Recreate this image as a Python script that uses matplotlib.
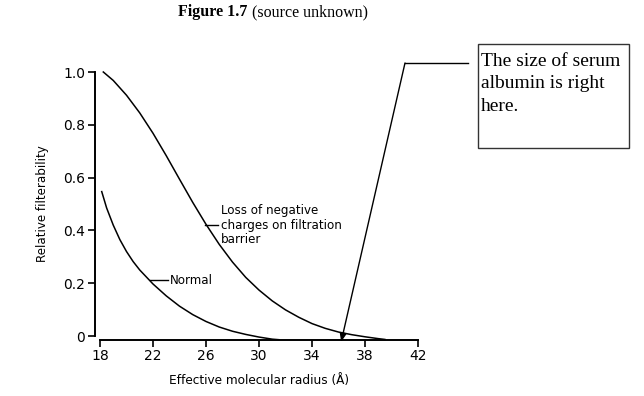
import matplotlib
matplotlib.use("Agg")
import matplotlib.pyplot as plt
from matplotlib.patches import Rectangle

# Data
loss_x = [18.25, 19, 20, 21, 22, 23, 24, 25, 26, 27, 28, 29, 30, 31, 32, 33, 34, 35, 36,
          37, 38, 39, 39.5]
loss_y = [1.0, 0.968, 0.912, 0.845, 0.768, 0.683, 0.594, 0.506, 0.423, 0.347, 0.280, 0.222,
          0.174, 0.133, 0.099, 0.071, 0.047, 0.029, 0.015, 0.005, -0.003, -0.010, -0.013]
norm_x = [18.13, 18.5, 19, 19.5, 20, 20.5, 21, 22, 23, 24, 25, 26, 27, 28, 29, 30, 31, 31.5]
norm_y = [0.547, 0.485, 0.42, 0.365, 0.32, 0.282, 0.25, 0.197, 0.152, 0.113, 0.081, 0.055,
          0.034, 0.018, 0.006, -0.004, -0.012, -0.014]

xticks = [18, 22, 26, 30, 34, 38, 42]
yticks = [0, 0.2, 0.4, 0.6, 0.8, 1.0]
yticklabels = ["0", "0.2", "0.4", "0.6", "0.8", "1.0"]
albumin_radius = 36.2

W, H = 644, 396
fig = plt.figure(figsize=(W / 100, H / 100), dpi=100)
ax = fig.add_axes([100 / W, 1 - 336 / H, (418 - 100) / W, (336 - 72) / H])

sans = "DejaVu Sans"
ax.plot(loss_x, loss_y, color="black", lw=1.1, clip_on=False, solid_joinstyle="round")
ax.plot(norm_x, norm_y, color="black", lw=1.1, clip_on=False, solid_joinstyle="round")

ax.set_xlim(18, 42)
ax.set_ylim(0, 1)
ax.set_xticks(xticks)
ax.set_xticklabels([str(t) for t in xticks], fontsize=9.5, family=sans)
ax.set_yticks(yticks)
ax.set_yticklabels(yticklabels, fontsize=9.5, family=sans)
for s in ["top", "right"]:
    ax.spines[s].set_visible(False)
ax.spines["left"].set_position(("outward", 3.6))
ax.spines["bottom"].set_position(("outward", 2.6))
ax.spines["left"].set_linewidth(1.4)
ax.spines["bottom"].set_linewidth(1.4)
ax.tick_params(length=5, width=1.2, pad=2)
ax.set_xlabel("Effective molecular radius (Å)", fontsize=8.7, family=sans, labelpad=8)
ax.set_ylabel("Relative filterability", fontsize=8.6, family=sans, labelpad=10)

# curve labels
ax.plot([21.8, 23.1], [0.212, 0.212], color="black", lw=1.0)
ax.text(23.3, 0.212, "Normal", fontsize=8.6, family=sans, va="center")
ax.plot([25.9, 26.9], [0.42, 0.42], color="black", lw=1.0)
ax.text(27.1, 0.42, "Loss of negative\ncharges on filtration\nbarrier", fontsize=8.6,
        family=sans, va="center", linespacing=1.14)

# title
fig.text(247 / W, 1 - 12 / H, "Figure 1.7", family="Liberation Serif", weight="bold",
         fontsize=11.5, ha="right", va="center")
fig.text(248 / W, 1 - 12 / H, " (source unknown)", family="Liberation Serif",
         fontsize=11.5, ha="left", va="center")

# annotation box
fig.patches.append(Rectangle((478 / W, 1 - 148 / H), (629 - 478) / W, (148 - 44) / H,
                             transform=fig.transFigure, fill=False, ec="#333333", lw=1.0))
fig.text(481 / W, 1 - 53 / H, "The size of serum\nalbumin is right\nhere.",
         family="Liberation Serif", fontsize=14, ha="left", va="top", linespacing=1.42)

# arrow: horizontal segment then diagonal to axis
fig.add_artist(plt.Line2D([405 / W, 468 / W], [1 - 63 / H, 1 - 63 / H],
                          transform=fig.transFigure, color="black", lw=1.0))
ax.annotate("", xy=(albumin_radius, -0.022), xycoords="data",
            xytext=(405 / W, 1 - 63 / H), textcoords="figure fraction",
            arrowprops=dict(arrowstyle="-|>,head_length=0.5,head_width=0.2",
                            color="black", lw=1.0, shrinkA=0, shrinkB=0),
            annotation_clip=False)

fig.savefig("out.png", dpi=100)
